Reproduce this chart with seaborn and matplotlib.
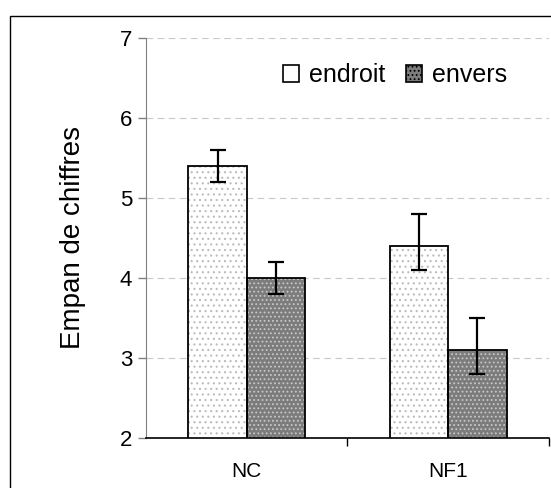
import numpy as np
import pandas as pd
import seaborn as sns
import matplotlib.pyplot as plt
from matplotlib.patches import Rectangle, Patch


groupes = ['NC', 'NF1']
conditions = ['endroit', 'envers']
endroit = [5.4, 4.4]
envers = [4.0, 3.1]
# barres d'erreur (bas / haut)
err_bas_endroit = [0.2, 0.3]
err_haut_endroit = [0.2, 0.4]
err_bas_envers = [0.2, 0.3]
err_haut_envers = [0.2, 0.4]

couleurs = {'endroit': '#ffffff', 'envers': '#7c7c7c'}
points = {'endroit': '#bcbcbc', 'envers': '#c8c8c8'}
motifs = {'endroit': '...', 'envers': '....'}

df = pd.DataFrame({
    'groupe': groupes * 2,
    'condition': ['endroit'] * 2 + ['envers'] * 2,
    'empan': endroit + envers,
})

sns.set_style('white')
plt.rcParams['font.family'] = ['Liberation Sans', 'DejaVu Sans']
plt.rcParams['hatch.linewidth'] = 0.8
plt.rcParams['text.color'] = 'black'
plt.rcParams['xtick.labelcolor'] = 'black'
plt.rcParams['ytick.labelcolor'] = 'black'
plt.rcParams['axes.labelcolor'] = 'black'

fig = plt.figure(figsize=(5.51, 4.88), dpi=100)
ax = fig.add_axes([0.265, 0.1025, 0.731, 0.82])

sns.barplot(data=df, x='groupe', y='empan', hue='condition', order=groupes,
            hue_order=conditions, palette=couleurs, width=0.58, errorbar=None,
            legend=False, ax=ax, linewidth=0)

# motif pointillé + contour noir
erreurs = {'endroit': (err_bas_endroit, err_haut_endroit),
           'envers': (err_bas_envers, err_haut_envers)}
for cond, cont in zip(conditions, ax.containers):
    xs = []
    for patch in cont.patches:
        patch.set_hatch(motifs[cond])
        patch.set_edgecolor(points[cond])
        patch.set_linewidth(0)
        ax.add_patch(Rectangle(patch.get_xy(), patch.get_width(), patch.get_height(),
                               fill=False, edgecolor='black', linewidth=1.3, zorder=3))
        xs.append(patch.get_x() + patch.get_width() / 2)
    valeurs = [p.get_height() for p in cont.patches]
    bas, haut = erreurs[cond]
    ax.errorbar(xs, valeurs, yerr=[bas, haut], fmt='none', ecolor='black',
                elinewidth=1.6, capsize=6, capthick=1.6, zorder=4)

ax.set_ylim(2, 7)
ax.set_xlim(-0.5, 1.5)
ax.set_yticks([2, 3, 4, 5, 6, 7])
ax.set_xticks([0, 1])
ax.set_xticks([0.5, 1.5], minor=True)
ax.tick_params(axis='y', which='major', left=True, length=6, width=1, color='#808080',
               labelsize=16, pad=4)
ax.tick_params(axis='x', which='major', bottom=False, labelsize=15, pad=14)
ax.tick_params(axis='x', which='minor', bottom=True, length=6, width=1, color='black')
ax.yaxis.grid(True, color='#c8c8c8', linestyle=(0, (6, 4)), linewidth=0.8)
ax.set_axisbelow(True)
ax.set_xlabel('')
ax.set_ylabel('Empan de chiffres', fontsize=20, labelpad=24)

ax.spines['top'].set_visible(False)
ax.spines['right'].set_visible(False)
ax.spines['left'].set_color('#808080')
ax.spines['bottom'].set_color('black')
ax.spines['bottom'].set_linewidth(1.2)

handles = [Patch(facecolor=couleurs[c], edgecolor='black', linewidth=1.2, label=c)
           for c in conditions]
handles[1].set_hatch('....')
fig.legend(handles=handles, loc='center', bbox_to_anchor=(0.717, 0.846), ncol=2,
           frameon=False, fontsize=18, handlelength=0.65, handleheight=0.65,
           handletextpad=0.4, columnspacing=0.8)

# cadre autour du graphique
fig.add_artist(Rectangle((10 / 551, -0.1), 1.1, 1.1 - 16 / 488,
                         transform=fig.transFigure, fill=False,
                         edgecolor='black', linewidth=1))

fig.savefig('out.png', dpi=100)
